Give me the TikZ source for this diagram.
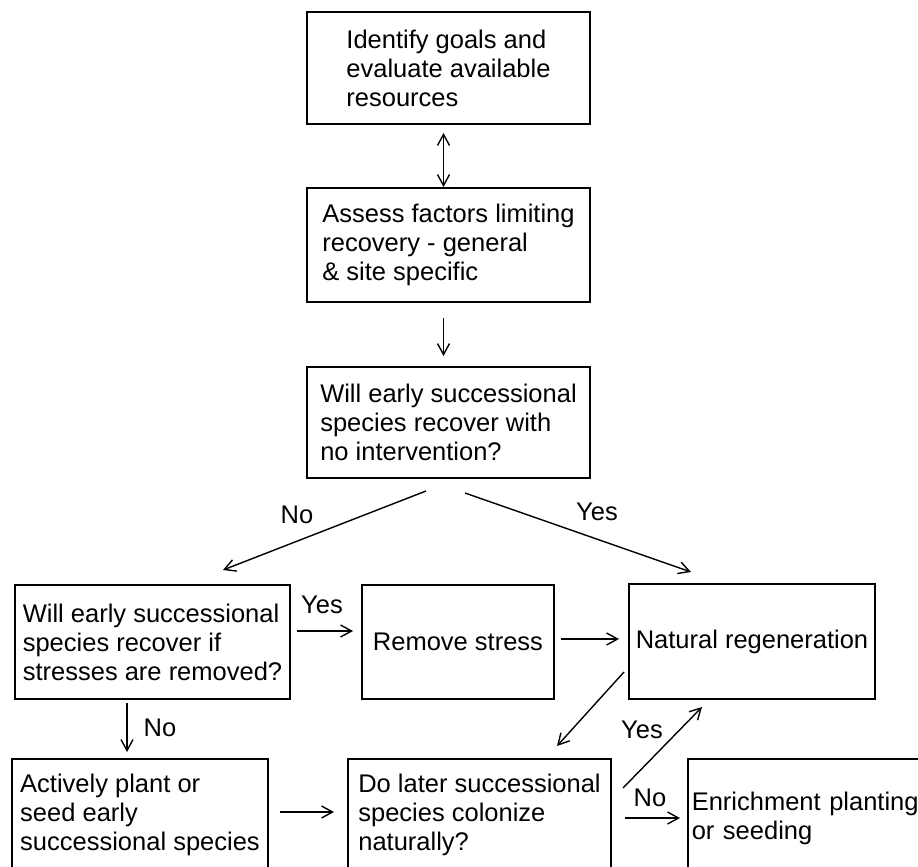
\documentclass[tikz,border=0pt]{standalone}
\usepackage{fontspec}
\setmainfont{Liberation Sans}
\usetikzlibrary{arrows.meta}
\begin{document}
\begin{tikzpicture}[x=1pt,y=-1pt,
  box/.style={draw,line width=1.6pt,align=left,inner sep=0pt,font=\fontsize{25.5}{29}\selectfont},
  arr/.style={line width=1.4pt,-{Straight Barb[length=11pt,width=12pt,line width=1.4pt]}},
  darr/.style={line width=1.4pt,{Straight Barb[length=11pt,width=12pt,line width=1.4pt]}-{Straight Barb[length=11pt,width=12pt,line width=1.4pt]}},
  lab/.style={font=\fontsize{25.5}{29}\selectfont,inner sep=0pt}]
\useasboundingbox (0,0) rectangle (918,867);
\clip (0,0) rectangle (918,867);
\fill[white] (0,0) rectangle (918,867);
% boxes
\node[box,minimum width=283pt,minimum height=112pt] (b1) at (448.5,68) {Identify goals and\\evaluate available\\resources};
\node[box,minimum width=283pt,minimum height=114pt] (b2) at (448.5,245) {Assess factors limiting\\recovery - general\\\& site specific};
\node[box,minimum width=283pt,minimum height=111pt] (b3) at (448.5,422.5) {Will early successional\\species recover with\\no intervention?};
\node[box,minimum width=275pt,minimum height=114pt] (b4) at (152.5,642) {Will early successional\\species recover if\\stresses are removed?};
\node[box,minimum width=192pt,minimum height=114pt] (rs) at (458,642) {Remove stress};
\node[box,minimum width=246pt,minimum height=115pt] (nr) at (752,641.5) {Natural regeneration};
\node[box,minimum width=256pt,minimum height=112pt] (b7) at (140,815) {Actively plant or\\seed early\\successional species};
\node[box,minimum width=263pt,minimum height=112pt] (b8) at (479.5,815) {Do later successional\\species colonize\\naturally?};
\node[box,anchor=west,text width=240pt,inner xsep=4pt,minimum height=118pt] (en) at (687,818) {Enrichment planting\\or seeding};
% connector end points
\coordinate (a1s) at (443.5,133);
\coordinate (a1e) at (443.5,187);
\coordinate (a2s) at (443.5,318);
\coordinate (a2e) at (443.5,356);
\coordinate (noS) at (426,491);
\coordinate (noE) at (223,570);
\coordinate (yesS) at (465,493);
\coordinate (yesE) at (691,572);
\coordinate (y2S) at (297,631);
\coordinate (y2E) at (353,631);
\coordinate (rnS) at (561,639);
\coordinate (rnE) at (619,639);
\coordinate (n2S) at (127,703);
\coordinate (n2E) at (127,752);
\coordinate (apS) at (280,812);
\coordinate (apE) at (334,812);
\coordinate (nbS) at (624,672);
\coordinate (nbE) at (557,746);
\coordinate (ybS) at (623,788);
\coordinate (ybE) at (702,707);
\coordinate (neS) at (625,818);
\coordinate (neE) at (680,818);
% connectors
\draw[darr] (a1s) -- (a1e);
\draw[arr] (a2s) -- (a2e);
\draw[arr] (noS) -- (noE);
\draw[arr] (yesS) -- (yesE);
\draw[arr] (y2S) -- (y2E);
\draw[arr] (rnS) -- (rnE);
\draw[arr] (n2S) -- (n2E);
\draw[arr] (apS) -- (apE);
\draw[arr] (nbS) -- (nbE);
\draw[arr] (ybS) -- (ybE);
\draw[arr] (neS) -- (neE);
% labels
\node[lab] (lNo1) at (297,515) {No};
\node[lab] (lYes1) at (597,512) {Yes};
\node[lab] (lYes2) at (322,605) {Yes};
\node[lab] (lNo2) at (160,728) {No};
\node[lab] (lYes3) at (642,730) {Yes};
\node[lab] (lNo3) at (650,798) {No};
\end{tikzpicture}
\end{document}
